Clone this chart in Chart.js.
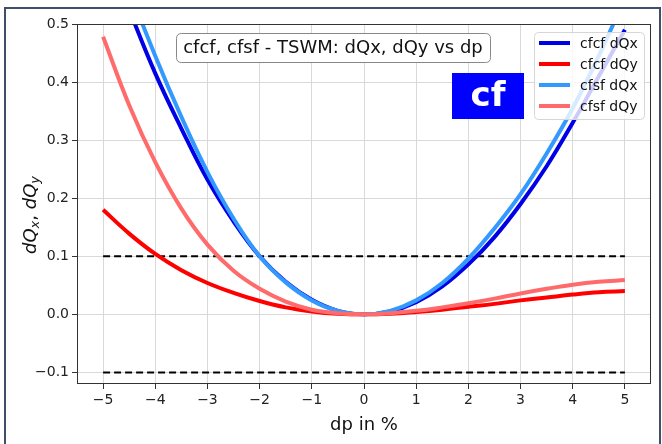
<!DOCTYPE html>
<html>
<head>
<meta charset="utf-8">
<script src="https://cdn.jsdelivr.net/npm/chart.js@4.4.1/dist/chart.umd.min.js"></script>
<style>
  body { margin: 0; background: #fff; }
  #wrap { width: 662px; height: 444px; position: relative; }
</style>
</head>
<body>
<div id="wrap"><canvas id="chart"></canvas></div>
<script>
// dp values (%)
var dp = [-5, -4.5, -4, -3.5, -3, -2.5, -2, -1.5, -1, -0.5, 0, 0.5, 1, 1.5, 2, 2.5, 3, 3.5, 4, 4.5, 5];

// series
var cfcfDQx = [0.64, 0.525, 0.415, 0.32, 0.232, 0.16, 0.1, 0.056, 0.025, 0.006, 0, 0.005, 0.021, 0.048, 0.086, 0.133, 0.19, 0.255, 0.33, 0.41, 0.49];
var cfcfDQy = [0.18, 0.139, 0.104, 0.076, 0.054, 0.037, 0.023, 0.012, 0.005, 0.001, 0, 0.001, 0.004, 0.008, 0.013, 0.018, 0.024, 0.029, 0.034, 0.038, 0.04];
var cfsfDQx = [0.69, 0.56, 0.445, 0.34, 0.245, 0.165, 0.1, 0.055, 0.024, 0.006, 0, 0.006, 0.024, 0.054, 0.096, 0.148, 0.207, 0.277, 0.355, 0.445, 0.545];
var cfsfDQy = [0.478, 0.36, 0.262, 0.182, 0.12, 0.075, 0.044, 0.022, 0.008, 0.002, 0, 0.002, 0.006, 0.012, 0.019, 0.027, 0.036, 0.044, 0.051, 0.056, 0.059];

// limits (dashed)
var limitX = [-5, 5];
var limitUp = [0.1, 0.1];
var limitDown = [-0.1, -0.1];

// tick labels
var xTicks = [-5, -4, -3, -2, -1, 0, 1, 2, 3, 4, 5];
var yTicks = [-0.1, 0.0, 0.1, 0.2, 0.3, 0.4, 0.5];

var seriesNames = ['cfcf dQx', 'cfcf dQy', 'cfsf dQx', 'cfsf dQy'];
var seriesColors = ['#0000e6', '#ff0000', '#3399ff', '#ff6b6b'];
var seriesData = [cfcfDQx, cfcfDQy, cfsfDQx, cfsfDQy];

function pts(xs, ys) {
  return xs.map(function(x, i){ return {x: x, y: ys[i]}; });
}

var datasets = [];
// dashed limit lines first (drawn under the curves)
datasets.push({ label: '_lim1', data: pts(limitX, limitUp), borderColor: '#000', borderWidth: 2, borderDash: [7, 4], pointRadius: 0, order: 10 });
datasets.push({ label: '_lim2', data: pts(limitX, limitDown), borderColor: '#000', borderWidth: 2, borderDash: [7, 4], pointRadius: 0, order: 10 });
for (var i = 0; i < seriesNames.length; i++) {
  datasets.push({
    label: seriesNames[i],
    data: pts(dp, seriesData[i]),
    borderColor: seriesColors[i],
    backgroundColor: seriesColors[i],
    borderWidth: 4,
    pointRadius: 0,
    tension: 0.4,
    order: 4 - i
  });
}

var FONT = '"DejaVu Sans", sans-serif';

function minus(s) { return String(s).replace('-', '\u2212'); }

function roundRect(ctx, x, y, w, h, r) {
  ctx.beginPath();
  ctx.moveTo(x + r, y);
  ctx.lineTo(x + w - r, y);
  ctx.quadraticCurveTo(x + w, y, x + w, y + r);
  ctx.lineTo(x + w, y + h - r);
  ctx.quadraticCurveTo(x + w, y + h, x + w - r, y + h);
  ctx.lineTo(x + r, y + h);
  ctx.quadraticCurveTo(x, y + h, x, y + h - r);
  ctx.lineTo(x, y + r);
  ctx.quadraticCurveTo(x, y, x + r, y);
  ctx.closePath();
}

// spines, boxes, legend, axis labels
var decor = {
  id: 'decor',
  afterDatasetsDraw: function(chart) {
    var ctx = chart.ctx, a = chart.chartArea;
    ctx.save();
    // plot frame
    ctx.strokeStyle = '#333';
    ctx.lineWidth = 1;
    ctx.strokeRect(a.left + 0.5, a.top + 0.5, a.right - a.left - 1, a.bottom - a.top - 1);

    // title box
    roundRect(ctx, 176.5, 33.5, 314, 29, 5);
    ctx.fillStyle = '#fff';
    ctx.fill();
    ctx.strokeStyle = '#888';
    ctx.stroke();
    ctx.font = '18px ' + FONT;
    ctx.fillStyle = '#111';
    ctx.textAlign = 'center';
    ctx.textBaseline = 'middle';
    ctx.fillText('cfcf, cfsf - TSWM: dQx, dQy vs dp', 333, 48);

    // cf label
    ctx.fillStyle = '#0000ff';
    ctx.fillRect(452, 73, 72, 46);
    ctx.fillStyle = '#fff';
    ctx.font = 'bold 34px ' + FONT;
    ctx.fillText('cf', 488, 97);

    // legend
    roundRect(ctx, 534.5, 32.5, 110, 87, 4);
    ctx.fillStyle = 'rgba(255,255,255,0.8)';
    ctx.fill();
    ctx.strokeStyle = '#d6d6d6';
    ctx.stroke();
    ctx.font = '14px ' + FONT;
    ctx.textAlign = 'left';
    for (var k = 0; k < seriesNames.length; k++) {
      var yy = 43 + k * 21;
      ctx.strokeStyle = seriesColors[k];
      ctx.lineWidth = 4;
      ctx.beginPath();
      ctx.moveTo(539, yy);
      ctx.lineTo(570, yy);
      ctx.stroke();
      ctx.fillStyle = '#111';
      ctx.fillText(seriesNames[k], 580, yy + 1);
    }

    // x axis label
    ctx.fillStyle = '#111';
    ctx.font = '18px ' + FONT;
    ctx.textAlign = 'center';
    ctx.fillText('dp in %', 364, 425);

    // y axis label with subscripts
    ctx.translate(31, 215);
    ctx.rotate(-Math.PI / 2);
    var parts = [
      ['dQ', 'italic 18px ', 0],
      ['x', 'italic 13px ', 5],
      [', ', '18px ', 0],
      ['dQ', 'italic 18px ', 0],
      ['y', 'italic 13px ', 5]
    ];
    var total = 0;
    parts.forEach(function(p){ ctx.font = p[1] + FONT; total += ctx.measureText(p[0]).width; });
    var cx = -total / 2;
    ctx.textAlign = 'left';
    parts.forEach(function(p){
      ctx.font = p[1] + FONT;
      ctx.fillText(p[0], cx, p[2]);
      cx += ctx.measureText(p[0]).width;
    });
    ctx.restore();

    // outer figure frame
    ctx.save();
    ctx.strokeStyle = '#3f4f69';
    ctx.lineWidth = 2;
    ctx.strokeRect(5, 8, 655, 450);
    ctx.restore();
  }
};

new Chart(document.getElementById('chart'), {
  type: 'line',
  data: { datasets: datasets },
  plugins: [decor],
  options: {
    responsive: true,
    maintainAspectRatio: false,
    animation: false,
    layout: { padding: { left: 0, top: 24, right: 11, bottom: 0 } },
    plugins: { legend: { display: false }, tooltip: { enabled: false } },
    scales: {
      x: {
        type: 'linear',
        min: -5.5,
        max: 5.5,
        afterBuildTicks: function(scale) {
          scale.ticks = xTicks.map(function(v){ return {value: v}; });
        },
        afterFit: function(scale) { scale.height = 60; },
        grid: { color: '#d9d9d9', lineWidth: 1, tickLength: 5, tickColor: '#333' },
        border: { display: false },
        ticks: {
          padding: 3,
          color: '#222',
          font: { family: FONT, size: 14 },
          maxRotation: 0,
          callback: function(v) { return minus(v); }
        }
      },
      y: {
        type: 'linear',
        min: -0.12,
        max: 0.5,
        afterBuildTicks: function(scale) {
          scale.ticks = yTicks.map(function(v){ return {value: v}; });
        },
        afterFit: function(scale) { scale.width = 77; },
        grid: { color: '#d9d9d9', lineWidth: 1, tickLength: 5, tickColor: '#333' },
        border: { display: false },
        ticks: {
          padding: 3,
          color: '#222',
          font: { family: FONT, size: 14 },
          callback: function(v) { return minus(Number(v).toFixed(1)); }
        }
      }
    }
  }
});
</script>
</body>
</html>
